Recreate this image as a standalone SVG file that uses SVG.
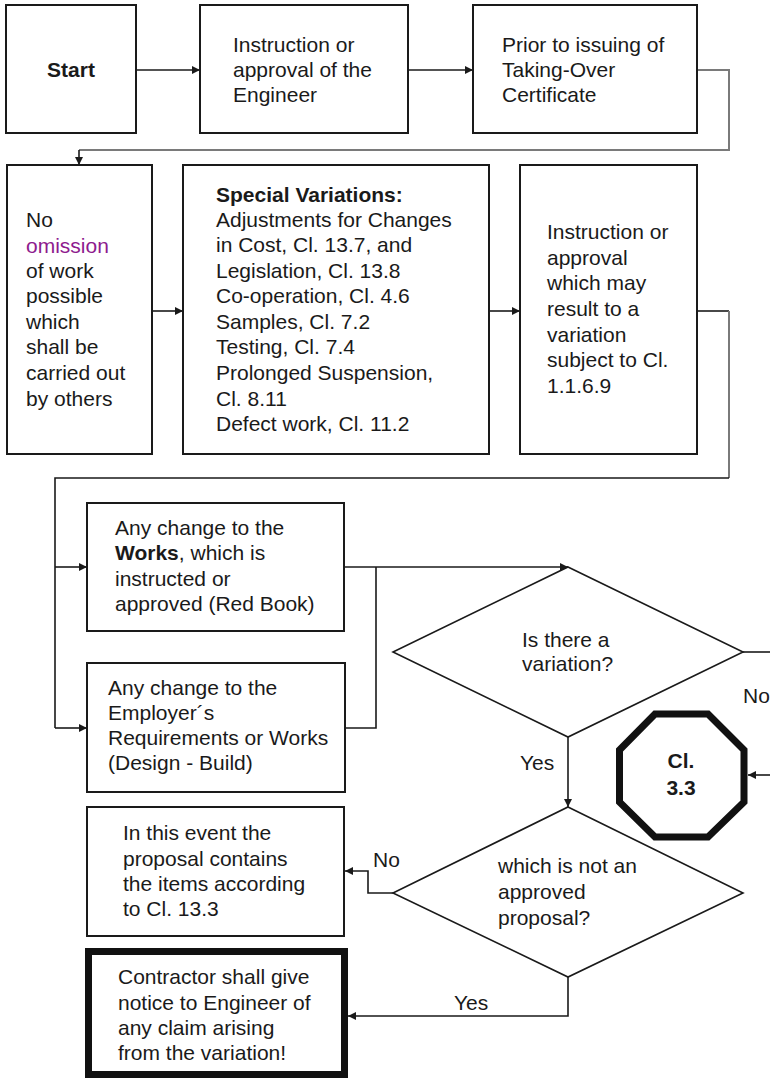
<svg xmlns="http://www.w3.org/2000/svg" width="770" height="1081" viewBox="0 0 770 1081">
<defs>
<style>
.box{fill:#fff;stroke:#1a1a1a;stroke-width:2}
.thick{fill:#fff;stroke:#111;stroke-width:7}
.dia{fill:#fff;stroke:#1a1a1a;stroke-width:1.6}
.t{font-family:"Liberation Sans",Arial,sans-serif;font-size:21px;fill:#1a1a1a}
.b{font-weight:bold}
.c{text-anchor:middle}
.ln{fill:none;stroke:#1a1a1a;stroke-width:1.6}
.gr{fill:none;stroke:#7a7a7a;stroke-width:2}
.purple{fill:#8e1b8e}
</style>
<marker id="ah" viewBox="0 0 10 10" refX="10" refY="5" markerWidth="10" markerHeight="8" markerUnits="userSpaceOnUse" orient="auto">
<path d="M0,0 L10,5 L0,10 z" fill="#1a1a1a"/>
</marker>
</defs>

<g id="connectors">
<line class="ln" x1="136" y1="70" x2="200" y2="70" marker-end="url(#ah)"/>
<line class="ln" x1="408" y1="70" x2="473" y2="70" marker-end="url(#ah)"/>
<polyline class="gr" points="697,70 729,70 729,150 79,150"/>
<line class="ln" x1="79" y1="150" x2="79" y2="165" marker-end="url(#ah)"/>
<line class="ln" x1="152" y1="311" x2="183" y2="311" marker-end="url(#ah)"/>
<line class="ln" x1="489" y1="311" x2="520" y2="311" marker-end="url(#ah)"/>
<polyline class="ln" points="697,311 729,311"/>
<polyline class="gr" points="729,311 729,478"/>
<polyline class="ln" points="729,478 55,478 55,728"/>
<line class="ln" x1="55" y1="567" x2="87" y2="567" marker-end="url(#ah)"/>
<line class="ln" x1="55" y1="728" x2="87" y2="728" marker-end="url(#ah)"/>
<line class="ln" x1="344" y1="567" x2="568" y2="567" marker-end="url(#ah)"/>
<polyline class="ln" points="345,728 376,728 376,567"/>
<line class="ln" x1="743" y1="652" x2="770" y2="652"/>
<line class="ln" x1="770" y1="775" x2="748" y2="775" marker-end="url(#ah)"/>
<line class="ln" x1="568" y1="737" x2="568" y2="807" marker-end="url(#ah)"/>
<polyline class="ln" points="393,893 368,893 368,871 345,871" marker-end="url(#ah)"/>
<polyline class="ln" points="568,977 568,1016 348,1016" marker-end="url(#ah)"/>
<text class="t" x="743" y="703">No</text>
<text class="t" x="520" y="770">Yes</text>
<text class="t" x="373" y="867">No</text>
<text class="t" x="454" y="1010">Yes</text>
</g>

<g id="start">
<rect class="box" x="6" y="5" width="130" height="128"/>
<text class="t b c" x="71" y="77">Start</text>
</g>

<g id="instruction">
<rect class="box" x="200" y="5" width="208" height="128"/>
<text class="t" x="233" y="52">Instruction or</text>
<text class="t" x="233" y="77">approval of the</text>
<text class="t" x="233" y="102">Engineer</text>
</g>

<g id="prior">
<rect class="box" x="473" y="5" width="224" height="128"/>
<text class="t" x="502" y="52">Prior to issuing of</text>
<text class="t" x="502" y="77">Taking-Over</text>
<text class="t" x="502" y="102">Certificate</text>
</g>

<g id="no-omission">
<rect class="box" x="7" y="165" width="145" height="289"/>
<text class="t" x="26" y="227">No</text>
<text class="t purple" x="26" y="253">omission</text>
<text class="t" x="26" y="278">of work</text>
<text class="t" x="26" y="303">possible</text>
<text class="t" x="26" y="329">which</text>
<text class="t" x="26" y="354">shall be</text>
<text class="t" x="26" y="380">carried out</text>
<text class="t" x="26" y="406">by others</text>
</g>

<g id="special">
<rect class="box" x="183" y="165" width="306" height="289"/>
<text class="t b" x="216" y="202">Special Variations:</text>
<text class="t" x="216" y="227">Adjustments for Changes</text>
<text class="t" x="216" y="252">in Cost, Cl. 13.7, and</text>
<text class="t" x="216" y="278">Legislation, Cl. 13.8</text>
<text class="t" x="216" y="303">Co-operation, Cl. 4.6</text>
<text class="t" x="216" y="329">Samples, Cl. 7.2</text>
<text class="t" x="216" y="354">Testing, Cl. 7.4</text>
<text class="t" x="216" y="380">Prolonged Suspension,</text>
<text class="t" x="216" y="406">Cl. 8.11</text>
<text class="t" x="216" y="431">Defect work, Cl. 11.2</text>
</g>

<g id="instruction-variation">
<rect class="box" x="520" y="165" width="177" height="289"/>
<text class="t" x="547" y="239">Instruction or</text>
<text class="t" x="547" y="265">approval</text>
<text class="t" x="547" y="290">which may</text>
<text class="t" x="547" y="316">result to a</text>
<text class="t" x="547" y="342">variation</text>
<text class="t" x="547" y="367">subject to Cl.</text>
<text class="t" x="547" y="393">1.1.6.9</text>
</g>

<g id="change-works">
<rect class="box" x="87" y="503" width="257" height="128"/>
<text class="t" x="115" y="535">Any change to the</text>
<text class="t" x="115" y="560"><tspan class="b">Works</tspan>, which is</text>
<text class="t" x="115" y="586">instructed or</text>
<text class="t" x="115" y="611">approved (Red Book)</text>
</g>

<g id="change-employer">
<rect class="box" x="87" y="663" width="258" height="129"/>
<text class="t" x="108" y="695">Any change to the</text>
<text class="t" x="108" y="720">Employer´s</text>
<text class="t" x="108" y="745">Requirements or Works</text>
<text class="t" x="108" y="770">(Design - Build)</text>
</g>

<g id="is-variation">
<polygon class="dia" points="568,567 743,652 568,737 393,652"/>
<text class="t" x="522" y="647">Is there a</text>
<text class="t" x="522" y="671">variation?</text>
</g>

<g id="cl33">
<polygon class="thick" points="655,714 708,714 744,750 744,802 708,837 655,837 619.5,802 619.5,750"/>
<text class="t b c" x="681" y="768">Cl.</text>
<text class="t b c" x="681" y="795">3.3</text>
</g>

<g id="not-approved">
<polygon class="dia" points="568,807 743,893 568,977 393,893"/>
<text class="t" x="498" y="873">which is not an</text>
<text class="t" x="498" y="899">approved</text>
<text class="t" x="498" y="925">proposal?</text>
</g>

<g id="proposal">
<rect class="box" x="87" y="807" width="257" height="129"/>
<text class="t" x="123" y="840">In this event the</text>
<text class="t" x="123" y="866">proposal contains</text>
<text class="t" x="123" y="891">the items according</text>
<text class="t" x="123" y="916">to Cl. 13.3</text>
</g>

<g id="notice">
<rect class="thick" x="88.5" y="951.5" width="256" height="123"/>
<text class="t" x="118" y="984">Contractor shall give</text>
<text class="t" x="118" y="1010">notice to Engineer of</text>
<text class="t" x="118" y="1035">any claim arising</text>
<text class="t" x="118" y="1060">from the variation!</text>
</g>
</svg>
